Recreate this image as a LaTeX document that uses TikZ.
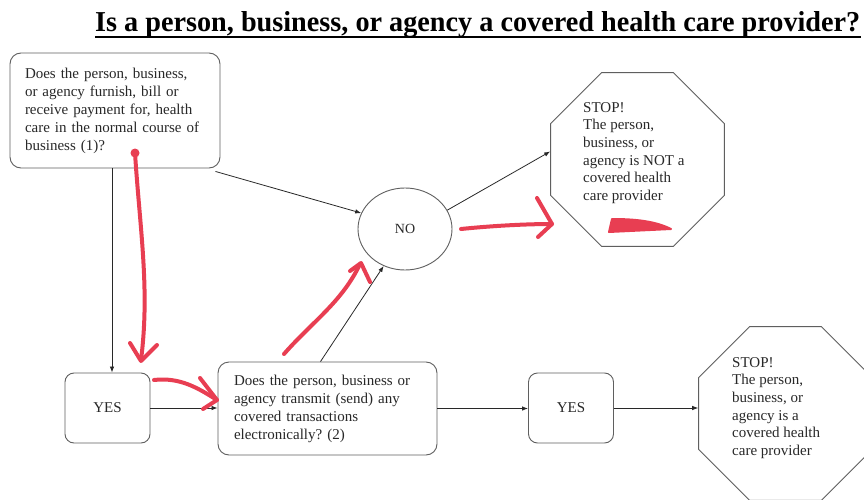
\documentclass[tikz,border=0pt]{standalone}
\usepackage{fontspec}
\setmainfont{Liberation Serif}
\newfontfamily\bodyfont{Liberation Serif}
\frenchspacing
\usetikzlibrary{shapes.geometric,arrows.meta}
\definecolor{pen}{RGB}{232,62,82}
\definecolor{ink}{RGB}{40,40,40}
\definecolor{edge}{RGB}{95,95,95}
\tikzset{
  qbox/.style={draw=edge, line width=0.9pt, rounded corners=11pt, align=left, font=\bodyfont\frenchspacing\fontsize{15}{18}\selectfont, text=ink},
  ybox/.style={draw=edge, line width=0.9pt, rounded corners=9pt, font=\bodyfont\fontsize{15}{18}\selectfont, text=ink, minimum width=85pt, minimum height=70pt, inner sep=0pt},
  stopbox/.style={draw=edge, line width=0.9pt, regular polygon, regular polygon sides=8, minimum size=188pt, inner sep=0pt},
  stoptext/.style={align=left, font=\bodyfont\frenchspacing\fontsize{15}{17.7}\selectfont, text=ink, anchor=north west, inner sep=0pt},
  conn/.style={draw=ink, line width=0.8pt, -{Latex[length=6pt,width=4.5pt]}},
  redpen/.style={draw=pen, line width=4pt, line cap=round, line join=round}
}
\begin{document}
\begin{tikzpicture}[x=1pt,y=-1pt]
\useasboundingbox (0,0) rectangle (864,500);
\fill[white] (0,0) rectangle (864,500);

% title
\node[anchor=base west, inner sep=0pt, text=black] (title) at (95,32)
  {\resizebox{765pt}{20pt}{\bodyfont\bfseries Is a person, business, or agency a covered health care provider?}};
\draw[black, line width=1.8pt] ([yshift=-5pt]title.base west) -- ([yshift=-5pt]title.base east);

% nodes
\node[qbox, minimum width=210pt, minimum height=115pt, text width=180pt, inner xsep=15pt] (q1) at (115,110.5)
  {Does the person, business,\\or agency furnish, bill or\\receive payment for, health\\care in the normal course of\\business (1)?};
\node[draw=edge, line width=0.9pt, ellipse, minimum width=94pt, minimum height=82pt, font=\bodyfont\fontsize{14}{16}\selectfont, text=ink] (no) at (405,229) {NO};
\node[stopbox] (stop1) at (637.5,159.5) {};
\node[stoptext] (t1) at (583,102)
  {STOP!\\The person,\\business, or\\agency is NOT a\\covered health\\care provider};
\node[ybox] (yes1) at (107.5,408) {YES};
\node[qbox, minimum width=219pt, minimum height=93pt, text width=187pt, inner xsep=16pt] (q2) at (327.5,408.5)
  {Does the person, business or\\agency transmit (send) any\\covered transactions\\electronically? (2)};
\node[ybox] (yes2) at (571,408) {YES};
\node[stopbox] (stop2) at (785.5,413.5) {};
\node[stoptext] (t2) at (732,357)
  {STOP!\\The person,\\business, or\\agency is a\\covered health\\care provider};

% connectors
\draw[conn] ([xshift=-3pt]q1.south) -- ([xshift=-3pt]q1.south |- yes1.north);
\draw[conn] ([xshift=-5pt,yshift=-3pt]q1.south east) -- (no.160);
\draw[conn] (yes1.east) -- (yes1.east -| q2.west);
\draw[conn] ([xshift=-7pt]q2.north) -- (no.240);
\draw[conn] (no.24) -- ([yshift=8pt]stop1.west);
\draw[conn] (q2.east) -- (q2.east -| yes2.west);
\draw[conn] (yes2.east) -- (yes2.east -| stop2.west);

% red hand annotations
\fill[pen] (135,153) circle (4.5pt);
\draw[redpen] (135,153) .. controls (140,230) and (150,290) .. (141,360);
\draw[redpen] (130,343) -- (141,361) -- (157,345);
\draw[redpen] (154,380) .. controls (180,377) and (198,388) .. (217,400);
\draw[redpen] (200,378) -- (217,400) -- (203,409);
\draw[redpen] (284,354) .. controls (312,322) and (342,302) .. (360,264);
\draw[redpen] (350,271) -- (361,263) -- (370,282);
\draw[redpen] (461,229) .. controls (490,226) and (525,224) .. (552,224);
\draw[redpen] (537,198) -- (552,224) -- (538,237);
\fill[pen, draw=pen, line width=2pt, line join=round] (612,219) .. controls (635,219) and (655,221) .. (671,229) -- (609,232) -- cycle;
\end{tikzpicture}
\end{document}
